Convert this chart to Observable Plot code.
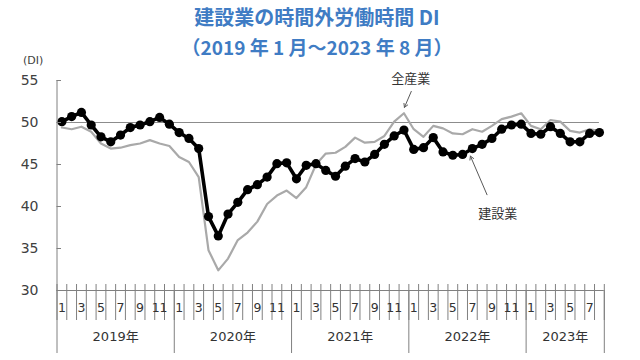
<!DOCTYPE html>
<html><head><meta charset="utf-8">
<script src="https://cdn.jsdelivr.net/npm/d3@7"></script>
<script src="https://cdn.jsdelivr.net/npm/@observablehq/plot@0.6"></script>
<style>
body{margin:0;background:#fff;}
#wrap{position:relative;width:640px;height:360px;}
.t{position:absolute;left:-3px;width:640px;text-align:center;color:#3f7cc4;font-family:"Noto Sans CJK JP",sans-serif;font-weight:bold;line-height:1;white-space:nowrap;}
#unit{position:absolute;left:23px;top:55px;font-size:11px;color:#404040;font-family:"DejaVu Sans","Noto Sans CJK JP",sans-serif;line-height:1;}
#chart{position:absolute;left:0;top:0;}
</style></head><body>
<div id="wrap">
<div id="chart"></div>
<div class="t" style="top:7px;font-size:20px;">建設業の時間外労働時間 DI</div>
<div class="t" style="top:37px;font-size:19px;">（2019 年 1 月～2023 年 8 月）</div>
<div id="unit">(DI)</div>
</div>
<script>
const years = ["2019年","2020年","2021年","2022年","2023年"];
const monthsPerYear = [12,12,12,12,8];
const monthNames = ["1","2","3","4","5","6","7","8","9","10","11","12"];
const construction = [
  50.1, 50.7, 51.2, 49.7, 48.3, 47.7, 48.5, 49.4, 49.7, 50.1, 50.6, 49.8,
  48.8, 48.1, 46.9, 38.8, 36.5, 39.1, 40.5, 42.0, 42.6, 43.5, 45.1, 45.2,
  43.3, 44.9, 45.1, 44.3, 43.6, 44.8, 45.7, 45.3, 46.2, 47.4, 48.4, 49.1,
  46.8, 47.0, 48.2, 46.5, 46.1, 46.2, 46.9, 47.4, 48.1, 49.2, 49.7, 49.8,
  48.7, 48.6, 49.5, 48.7, 47.7, 47.7, 48.7, 48.8
];
const allIndustry = [
  49.4, 49.2, 49.5, 48.9, 47.5, 46.9, 47.0, 47.3, 47.5, 47.9, 47.5, 47.2,
  45.9, 45.3, 43.5, 34.8, 32.4, 33.8, 36.0, 36.9, 38.2, 40.3, 41.3, 41.9,
  41.0, 42.3, 45.0, 46.3, 46.4, 47.1, 48.2, 47.6, 47.7, 48.4, 50.1, 51.1,
  49.2, 48.3, 49.6, 49.3, 48.7, 48.6, 49.2, 48.9, 49.6, 50.4, 50.7, 51.1,
  49.6, 49.2, 50.3, 50.1, 49.0, 48.8, 49.2, 49.0
];
const yTicks = [30, 35, 40, 45, 50, 55];
const referenceLevel = 50;
const seriesNames = ["全産業", "建設業"];

const n = construction.length;
const monthLabels = [];
years.forEach((y, k) => { for (let m = 0; m < monthsPerYear[k]; m++) monthLabels.push(monthNames[m]); });
const data = construction.map((v, i) => ({i, con: v, all: allIndustry[i]}));
const oddMonthIdx = d3.range(n).filter(i => (+monthLabels[i]) % 2 === 1);
const boundaries = d3.range(n + 1).map(i => i - 0.5);
const yearBounds = [-0.5]; const yearCenters = [];
{ let acc = 0; monthsPerYear.forEach(c => { yearCenters.push(acc + c / 2 - 0.5); acc += c; yearBounds.push(acc - 0.5); }); }

// annotation anchors derived from data points
const peakAll = 35, pointCon = 42;
const annotations = [
  {label: seriesNames[0], tx: peakAll + 0.7, ty: allIndustry[peakAll], tdy: -34,
   x1: peakAll + 0.75, y1: allIndustry[peakAll] + 2.6, x2: peakAll + 0.05, y2: allIndustry[peakAll] + 0.7},
  {label: seriesNames[1], tx: pointCon + 2.6, ty: construction[pointCon], tdy: 65,
   x1: pointCon + 1.5, y1: construction[pointCon] - 5.5, x2: pointCon - 0.2, y2: construction[pointCon] - 0.9}
];

const font = "'DejaVu Sans','Noto Sans CJK JP',sans-serif";
const chart = Plot.plot({
  width: 640, height: 360,
  marginLeft: 56.5, marginRight: 36.2, marginTop: 80, marginBottom: 70,
  style: {fontFamily: font, background: "transparent", overflow: "visible"},
  x: {type: "linear", domain: [-0.5, n - 0.5]},
  y: {domain: [30, 55]},
  marks: [
    Plot.ruleY([referenceLevel], {x1: -0.5, x2: n - 1, stroke: "#8c8c8c", strokeWidth: 1}),
    Plot.line(data, {x: "i", y: "all", stroke: "#a9a9a9", strokeWidth: 2.2}),
    Plot.line(data, {x: "i", y: "con", stroke: "#000", strokeWidth: 3.6}),
    Plot.dot(data, {x: "i", y: "con", r: 4.6, fill: "#000"}),
    Plot.ruleX([-0.5], {y1: 30, y2: 55, stroke: "#808080"}),
    Plot.ruleY([30], {x1: -0.5, x2: n - 0.5, stroke: "#808080"}),
    Plot.axisY({ticks: yTicks, tickSize: 0, tickPadding: 18.5, fontSize: 14, fill: "#404040", tickFormat: d => d}),
    Plot.axisY({ticks: yTicks, tickSize: -4.5, tickFormat: () => "", stroke: "#808080"}),
    Plot.axisX({ticks: boundaries, tickSize: -6, tickFormat: () => "", stroke: "#808080"}),
    Plot.axisX({ticks: boundaries, tickSize: 30, tickFormat: () => "", stroke: "#808080"}),
    Plot.axisX({ticks: yearBounds, tickSize: 63, tickFormat: () => "", stroke: "#808080"}),
    Plot.axisX({ticks: oddMonthIdx, tickSize: 0, tickPadding: 13, fontSize: 12.5, fill: "#333", tickFormat: i => monthLabels[i]}),
    Plot.axisX({ticks: yearCenters, tickSize: 0, tickPadding: 41, fontSize: 13, fill: "#333", tickFormat: c => years[yearCenters.indexOf(c)]}),
    Plot.arrow(annotations, {x1: "x1", y1: "y1", x2: "x2", y2: "y2", stroke: "#595959", strokeWidth: 1, headLength: 6}),
    Plot.text(annotations.slice(0, 1), {x: "tx", y: "ty", dy: annotations[0].tdy, text: "label", fontSize: 13, fill: "#333"}),
    Plot.text(annotations.slice(1), {x: "tx", y: "ty", dy: annotations[1].tdy, text: "label", fontSize: 13, fill: "#333"})
  ]
});
document.getElementById("chart").appendChild(chart);
</script>
</body></html>
